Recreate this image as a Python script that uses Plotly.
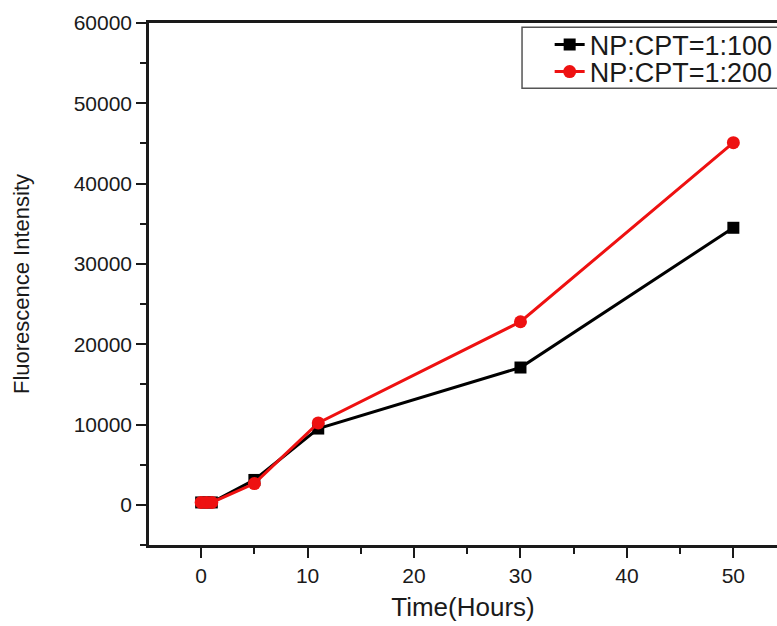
import plotly.graph_objects as go

# Release time points (hours) and measured fluorescence intensity
hours = [0, 0.5, 1, 5, 11, 30, 50]
intensity_1_100 = [300, 300, 300, 3100, 9500, 17100, 34500]
intensity_1_200 = [300, 300, 300, 2650, 10200, 22800, 45100]

series_names = ["NP:CPT=1:100", "NP:CPT=1:200"]
y_ticks = [0, 10000, 20000, 30000, 40000, 50000, 60000]
x_ticks = [0, 10, 20, 30, 40, 50]

FONT = "Liberation Sans, Arial, sans-serif"
INK = "#1a1a1a"
RED = "#ee1111"

fig = go.Figure()
fig.add_trace(go.Scatter(
    x=hours, y=intensity_1_100, name=series_names[0], mode="lines+markers",
    line=dict(color="black", width=3),
    marker=dict(symbol="square", size=12, color="black"),
    legend="legend",
))
fig.add_trace(go.Scatter(
    x=hours, y=intensity_1_200, name=series_names[1], mode="lines+markers",
    line=dict(color=RED, width=3),
    marker=dict(symbol="circle", size=13, color=RED),
    legend="legend2",
))

legend_style = dict(
    xanchor="left", yanchor="middle", borderwidth=0,
    bgcolor="rgba(0,0,0,0)", font=dict(size=27, color=INK, family=FONT),
)

fig.update_layout(
    width=777, height=626,
    margin=dict(l=149, r=0, t=23, b=81, autoexpand=False),
    paper_bgcolor="white", plot_bgcolor="white",
    font=dict(family=FONT, color=INK, size=21),
    showlegend=True,
    legend=dict(x=0.638, y=0.958, **legend_style),
    legend2=dict(x=0.638, y=0.906, **legend_style),
    # frame around the two legend rows
    shapes=[dict(
        type="rect", xref="paper", yref="paper",
        x0=0.594, x1=1.02, y0=0.875, y1=0.992,
        line=dict(color="#555", width=1.5), fillcolor="white", layer="above",
    )],
    xaxis=dict(
        range=[-4.9, 54.1], tickvals=x_ticks, ticktext=[str(v) for v in x_ticks],
        showgrid=False, zeroline=False,
        showline=True, linecolor=INK, linewidth=2.5, mirror=True,
        ticks="outside", ticklen=10, tickwidth=2, tickcolor=INK,
        minor=dict(dtick=5, tick0=0, ticks="outside", ticklen=6, tickwidth=2, tickcolor=INK),
        tickfont=dict(size=21),
        title=dict(text="Time(Hours)", font=dict(size=26), standoff=12),
    ),
    yaxis=dict(
        range=[-5000, 60000], tickvals=y_ticks, ticktext=[str(v) for v in y_ticks],
        showgrid=False, zeroline=False,
        showline=True, linecolor=INK, linewidth=2.5,
        ticks="outside", ticklen=10, tickwidth=2, tickcolor=INK,
        minor=dict(dtick=5000, tick0=0, ticks="outside", ticklen=6, tickwidth=2, tickcolor=INK),
        tickfont=dict(size=21),
        title=dict(text="Fluorescence Intensity", font=dict(size=22), standoff=38),
    ),
)

fig.write_html("out.html")
